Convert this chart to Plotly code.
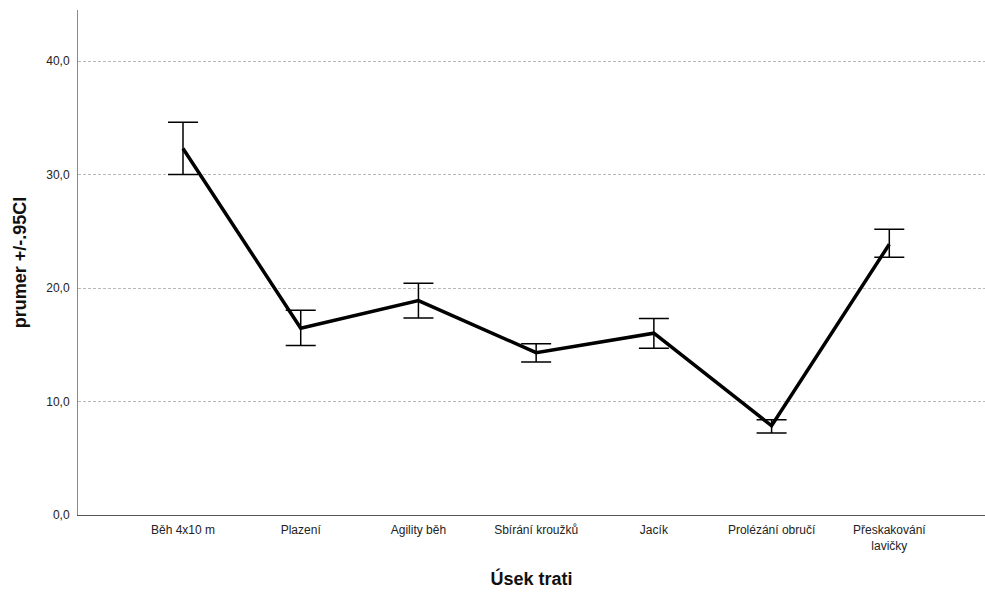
import plotly.graph_objects as go

# Mean time per course section with 95% confidence interval bounds
sections = ["Běh 4x10 m", "Plazení", "Agility běh", "Sbírání kroužků",
            "Jacík", "Prolézání obručí", "Přeskakování<br>lavičky"]
mean_vals = [32.3, 16.46, 18.89, 14.31, 16.02, 7.86, 23.86]
ci_lower = [30.0, 14.93, 17.37, 13.49, 14.7, 7.22, 22.71]
ci_upper = [34.6, 18.05, 20.42, 15.08, 17.31, 8.39, 25.18]

err_plus = [u - m for u, m in zip(ci_upper, mean_vals)]
err_minus = [m - l for m, l in zip(mean_vals, ci_lower)]

FONT = "Liberation Sans, Arial, sans-serif"

fig = go.Figure()
fig.add_trace(go.Scatter(
    x=list(range(len(sections))),
    y=mean_vals,
    mode="lines",
    line=dict(color="black", width=3.5),
    error_y=dict(type="data", symmetric=False, array=err_plus,
                 arrayminus=err_minus, color="black", thickness=1.5, width=15),
    hoverinfo="skip",
    showlegend=False,
))

fig.update_layout(
    width=985, height=592,
    margin=dict(l=78, r=0, t=10, b=77),
    paper_bgcolor="white", plot_bgcolor="white",
    separators=", ",
    font=dict(family=FONT, size=12, color="#222"),
    xaxis=dict(
        tickmode="array",
        tickvals=list(range(len(sections))),
        ticktext=sections,
        range=[-0.892, 6.813],
        showgrid=False, zeroline=False,
        showline=True, linecolor="#555", linewidth=1,
        ticks="", ticklen=0,
        ticklabelstandoff=4,
        tickfont=dict(family=FONT, size=12, color="#222"),
        title=dict(text="<b>Úsek trati</b>", font=dict(family=FONT, size=18, color="#111"),
                   standoff=20),
    ),
    yaxis=dict(
        range=[0, 44.5],
        tickvals=[0, 10, 20, 30, 40],
        tickformat=".1f",
        showgrid=True, gridcolor="#b8b8b8", gridwidth=1, griddash="3px,2px",
        zeroline=False,
        showline=True, linecolor="#8a8a8a", linewidth=1,
        ticks="", ticklen=0,
        ticklabelstandoff=5,
        tickfont=dict(family=FONT, size=12, color="#222"),
        title=dict(text="<b>prumer +/-.95CI</b>", font=dict(family=FONT, size=18, color="#111"),
                   standoff=14),
    ),
)

fig.write_html("out.html")
